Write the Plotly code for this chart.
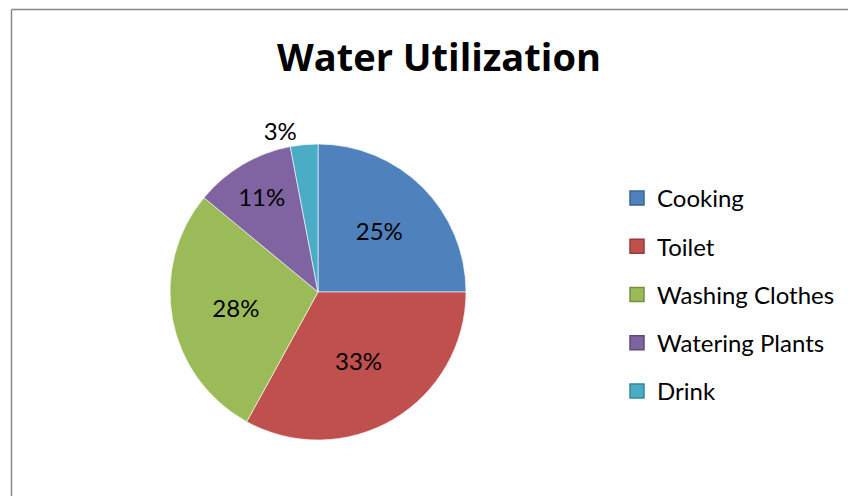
import plotly.graph_objects as go

# data
categories = ["Cooking", "Toilet", "Washing Clothes", "Watering Plants", "Drink"]
shares = [25, 33, 28, 11, 3]
colors = ["#4F81BD", "#C0504D", "#9BBB59", "#8064A2", "#4BACC6"]
edge_colors = ["#3A6496", "#963B39", "#76923F", "#5F4A7A", "#35889F"]
label_pos = ["inside", "inside", "inside", "inside", "outside"]

W, H = 856, 496
OFF = 8  # page body margin shifts the figure by 8px
FONT = "Lato"


def px_x(x):
    return (x - OFF) / W


def px_y(y):
    return 1 - (y - OFF) / H


cx, cy, r = 318, 292, 148

fig = go.Figure()
fig.add_trace(
    go.Pie(
        labels=categories,
        values=shares,
        sort=False,
        direction="clockwise",
        rotation=0,
        marker=dict(colors=colors, line=dict(color="rgba(255,255,255,0.6)", width=1)),
        textinfo="percent",
        textposition=label_pos,
        insidetextorientation="horizontal",
        textfont=dict(family=FONT, size=24, color="black"),
        domain=dict(x=[px_x(cx - r), px_x(cx + r)], y=[px_y(cy + r), px_y(cy - r)]),
        showlegend=False,
        hoverinfo="label+percent",
    )
)

# legend entries (one group per category so the rows can be spaced out)
for name, c, ec in zip(categories, colors, edge_colors):
    fig.add_trace(
        go.Scatter(
            x=[None],
            y=[None],
            mode="markers",
            name=name,
            legendgroup=name,
            marker=dict(symbol="square", size=14, color=c, line=dict(color=ec, width=1.5)),
        )
    )

fig.update_layout(
    width=W,
    height=H,
    margin=dict(l=0, r=0, t=0, b=0),
    paper_bgcolor="white",
    plot_bgcolor="white",
    font=dict(family=FONT, size=24, color="black"),
    title=dict(
        text="<b>Water Utilization</b>",
        x=px_x(439),
        xanchor="center",
        y=px_y(58),
        yanchor="middle",
        font=dict(family="Open Sans", size=38, color="black"),
    ),
    xaxis=dict(visible=False),
    yaxis=dict(visible=False),
    legend=dict(
        x=px_x(617),
        xanchor="left",
        y=px_y(176),
        yanchor="top",
        tracegroupgap=14,
        font=dict(family=FONT, size=24),
        itemsizing="trace",
        bgcolor="rgba(0,0,0,0)",
    ),
    shapes=[
        dict(type="line", xref="paper", yref="paper", x0=px_x(11.5), x1=1, y0=px_y(9.5), y1=px_y(9.5),
             line=dict(color="#868686", width=1.5)),
        dict(type="line", xref="paper", yref="paper", x0=px_x(11.5), x1=px_x(11.5), y0=0, y1=px_y(9.5),
             line=dict(color="#868686", width=1.5)),
    ],
)

fig.write_html("out.html")
